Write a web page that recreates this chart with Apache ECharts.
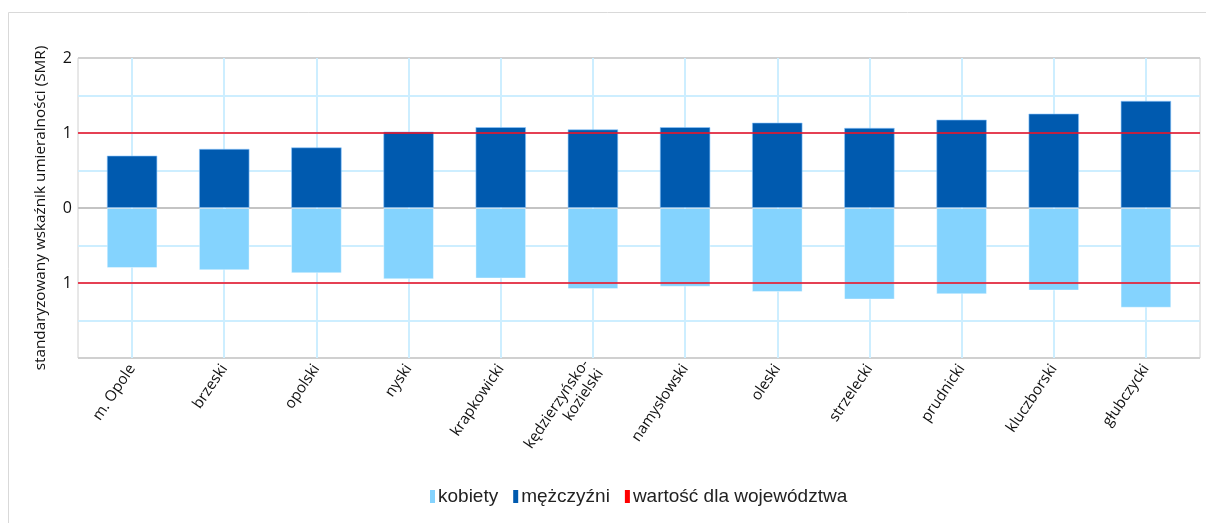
<!DOCTYPE html>
<html>
<head>
<meta charset="utf-8">
<script src="https://cdn.jsdelivr.net/npm/echarts@6/dist/echarts.min.js"></script>
<style>
    html, body { margin: 0; padding: 0; background: #fff; }
    #chart { width: 1206px; height: 523px; }
</style>
</head>
<body>
<div id="chart"></div>
<script>
const categories = ['m. Opole', 'brzeski', 'opolski', 'nyski', 'krapkowicki', 'kędzierzyńsko-\nkozielski',
    'namysłowski', 'oleski', 'strzelecki', 'prudnicki', 'kluczborski', 'głubczycki']
const men = [0.70, 0.79, 0.81, 1.02, 1.08, 1.05, 1.08, 1.14, 1.07, 1.18, 1.26, 1.43]
const women = [-0.80, -0.83, -0.87, -0.95, -0.94, -1.08, -1.05, -1.12, -1.22, -1.15, -1.10, -1.33]
const regionValues = [1, -1]
const yTicks = [2, 1, 0, -1]
const yTickLabels = ['2', '1', '0', '1']

const font = '"Open Sans", sans-serif'
const gridBlue = '#cdeeff'

const myChart = echarts.init(document.getElementById('chart'))

const option = {
    animation: false,
    graphic: [{
        type: 'rect',
        shape: { x: 8.5, y: 12.5, width: 1300, height: 700 },
        style: { fill: 'none', stroke: '#d9d9d9', lineWidth: 1 },
        silent: true
    }],
    legend: {
        left: 425,
        top: 482,
        itemWidth: 5,
        itemHeight: 13,
        itemGap: 15,
        itemStyle: { borderWidth: 0 },
        textStyle: {
            fontFamily: '"Liberation Sans", Arial, sans-serif',
            fontSize: 19,
            color: '#222',
            padding: [0, 0, 0, -2]
        },
        data: [
            { name: 'kobiety', icon: 'rect' },
            { name: 'mężczyźni', icon: 'rect' },
            { name: 'wartość dla województwa', icon: 'rect' }
        ]
    },
    grid: [
        // frame, horizontal lines, y labels
        { left: 78, top: 58, width: 1122, height: 300, show: true, borderColor: '#d0d0d0', borderWidth: 1 },
        // bars
        { left: 86, top: 58, width: 1106, height: 300 },
        // vertical grid lines at category centres
        { left: 132, top: 58, width: 1014, height: 300 }
    ],
    xAxis: [
        { gridIndex: 0, type: 'value', min: 0, max: 1, show: false },
        {
            gridIndex: 1,
            type: 'category',
            data: categories,
            axisLine: { show: false },
            axisTick: { show: true, alignWithLabel: true, length: 4, lineStyle: { color: gridBlue, width: 2 } },
            axisLabel: {
                rotate: 56,
                margin: 8,
                interval: 0,
                fontFamily: font,
                fontSize: 15,
                color: '#111',
                lineHeight: 17
            },
            splitLine: { show: false }
        },
        {
            gridIndex: 2,
            type: 'value',
            min: 0,
            max: 11,
            interval: 1,
            axisLine: { show: false },
            axisTick: { show: false },
            axisLabel: { show: false },
            splitLine: { show: true, lineStyle: { color: gridBlue, width: 2 } }
        }
    ],
    yAxis: [
        {
            gridIndex: 0,
            type: 'value',
            min: -2,
            max: 2,
            interval: 0.5,
            name: 'standaryzowany wskaźnik umieralności (SMR)',
            nameLocation: 'middle',
            nameGap: 30,
            nameTextStyle: { fontFamily: font, fontSize: 15.3, color: '#111' },
            axisLine: { show: false },
            axisTick: { show: false },
            axisLabel: {
                fontFamily: font,
                fontSize: 16,
                color: '#111',
                margin: 6,
                formatter: (v) => {
                    const i = yTicks.indexOf(v)
                    return i >= 0 ? yTickLabels[i] : ''
                }
            },
            splitLine: {
                show: true,
                lineStyle: {
                    width: 2,
                    color: ['#d0d0d0', gridBlue, gridBlue, gridBlue, '#c4c4c4', gridBlue, gridBlue, gridBlue, '#d0d0d0']
                }
            }
        },
        { gridIndex: 1, type: 'value', min: -2, max: 2, show: false },
        { gridIndex: 2, type: 'value', min: -2, max: 2, show: false }
    ],
    series: [
        {
            name: 'kobiety',
            type: 'bar',
            xAxisIndex: 1,
            yAxisIndex: 1,
            barWidth: '55%',
            barGap: '-100%',
            itemStyle: { color: '#84d3fe', borderColor: 'rgba(255,255,255,0.4)', borderWidth: 1 },
            data: women,
            z: 3
        },
        {
            name: 'mężczyźni',
            type: 'bar',
            xAxisIndex: 1,
            yAxisIndex: 1,
            barWidth: '55%',
            barGap: '-100%',
            itemStyle: { color: '#005aaf', borderColor: 'rgba(140,200,255,0.6)', borderWidth: 1 },
            data: men,
            z: 3
        },
        {
            name: 'wartość dla województwa',
            type: 'line',
            xAxisIndex: 0,
            yAxisIndex: 0,
            data: [],
            itemStyle: { color: '#ff0000' },
            z: 5,
            markLine: {
                silent: true,
                symbol: 'none',
                label: { show: false },
                lineStyle: { color: 'rgba(235,20,40,0.8)', width: 2, type: 'solid' },
                data: regionValues.map(v => ({ yAxis: v }))
            }
        }
    ]
}

myChart.setOption(option)
</script>
</body>
</html>
